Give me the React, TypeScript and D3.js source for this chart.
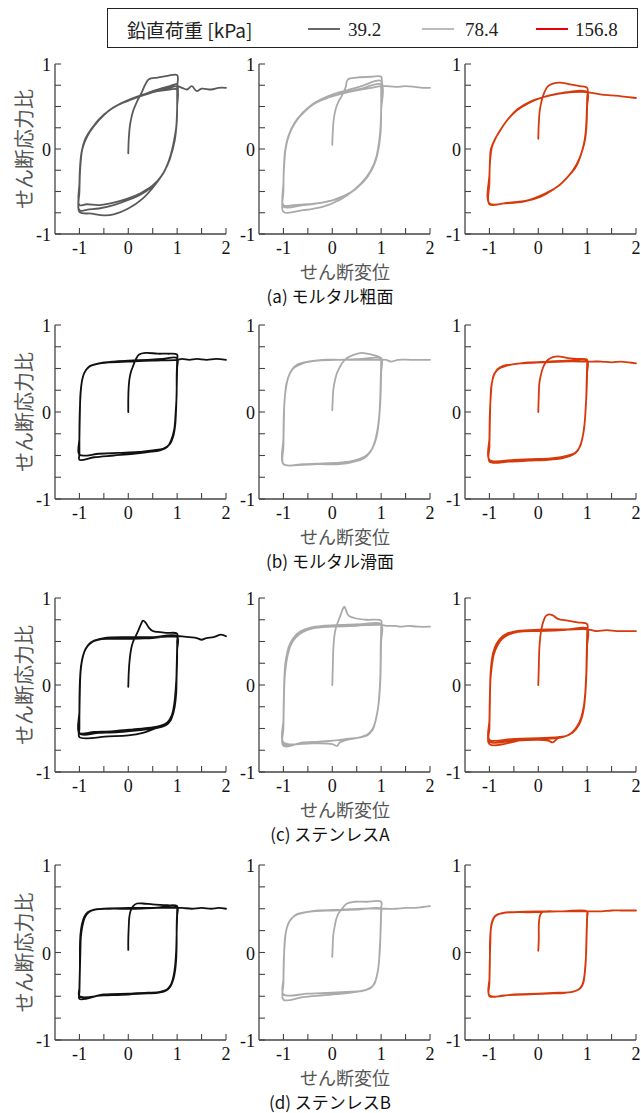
import React from "react";
import * as d3 from "d3";

// ---------- data ----------
const LEGEND_TITLE = "鉛直荷重 [kPa]";
const LOADS = ["39.2", "78.4", "156.8"];
const CAPTIONS = ["(a) モルタル粗面", "(b) モルタル滑面", "(c) ステンレスA", "(d) ステンレスB"];
const Y_TITLE = "せん断応力比";
const X_TITLE = "せん断変位";
const X_TICKS = [-1, -0.5, 0, 0.5, 1, 1.5, 2];
const X_LABELS = [-1, 0, 1, 2];
const Y_TICKS = [-1, -0.75, -0.5, -0.25, 0, 0.25, 0.5, 0.75, 1];
const Y_LABELS = [-1, 0, 1];

type P = [number, number];

// (a) mortar rough
const a1: P[] = [
  [0,-0.05],[0.01,0.12],[0.04,0.3],[0.1,0.45],[0.18,0.56],[0.27,0.66],[0.34,0.75],[0.42,0.82],[0.6,0.84],[0.8,0.86],[1,0.87],
  [1,0.72],[1,0.5],[0.99,0.3],[0.95,0.1],[0.87,-0.08],[0.75,-0.25],[0.55,-0.42],[0.3,-0.58],[0,-0.7],[-0.3,-0.77],[-0.5,-0.78],[-0.75,-0.76],[-1,-0.74],
  [-1,-0.5],[-0.98,-0.2],[-0.94,0],[-0.85,0.14],[-0.72,0.26],[-0.56,0.37],[-0.35,0.47],[-0.14,0.54],[0.1,0.6],[0.3,0.64],[0.6,0.7],[0.85,0.74],[1,0.76],
  [1,0.55],[0.99,0.3],[0.93,0.08],[0.85,-0.12],[0.72,-0.28],[0.54,-0.42],[0.3,-0.52],[0,-0.6],[-0.3,-0.66],[-0.6,-0.7],[-0.8,-0.71],[-1,-0.72],
  [-1,-0.45],[-0.99,-0.25],[-0.96,-0.05],[-0.88,0.12],[-0.75,0.24],[-0.6,0.35],[-0.4,0.45],[-0.2,0.52],[0.05,0.58],[0.3,0.63],[0.6,0.68],[0.85,0.7],[1,0.7],
  [1,0.5],[0.98,0.25],[0.92,0.05],[0.83,-0.14],[0.7,-0.3],[0.5,-0.43],[0.25,-0.52],[0,-0.58],[-0.3,-0.63],[-0.6,-0.66],[-0.85,-0.65],[-1,-0.66],
  [-1,-0.4],[-0.98,-0.15],[-0.93,0.02],[-0.84,0.15],[-0.7,0.27],[-0.5,0.4],[-0.3,0.49],[-0.05,0.56],[0.2,0.61],[0.5,0.67],[0.8,0.71],[1,0.74],
  [1.1,0.72],[1.2,0.7],[1.3,0.74],[1.4,0.68],[1.5,0.71],[1.7,0.7],[1.85,0.72],[2,0.72],
];
const a2: P[] = [
  [0,0.05],[0.01,0.2],[0.03,0.35],[0.07,0.47],[0.13,0.56],[0.2,0.63],[0.27,0.72],[0.32,0.82],[0.5,0.84],[0.8,0.85],[1,0.85],
  [1,0.72],[1,0.45],[0.99,0.2],[0.95,0.02],[0.85,-0.18],[0.7,-0.33],[0.45,-0.48],[0.15,-0.6],[-0.2,-0.68],[-0.6,-0.72],[-1,-0.74],
  [-1,-0.5],[-0.99,-0.2],[-0.96,0],[-0.9,0.15],[-0.78,0.3],[-0.6,0.43],[-0.4,0.53],[-0.25,0.58],[0,0.64],[0.3,0.69],[0.6,0.74],[1,0.8],
  [1,0.5],[0.99,0.25],[0.96,0.05],[0.88,-0.15],[0.73,-0.32],[0.5,-0.46],[0.2,-0.56],[-0.1,-0.62],[-0.5,-0.65],[-0.8,-0.66],[-1,-0.66],
  [-1,-0.4],[-0.98,-0.15],[-0.95,0.02],[-0.88,0.17],[-0.75,0.32],[-0.55,0.45],[-0.3,0.56],[0,0.62],[0.3,0.67],[0.6,0.71],[1,0.76],
  [1,0.45],[0.98,0.2],[0.94,0.02],[0.86,-0.18],[0.7,-0.34],[0.48,-0.47],[0.2,-0.57],[-0.2,-0.63],[-0.6,-0.66],[-1,-0.68],
  [-1,-0.45],[-0.99,-0.2],[-0.96,0],[-0.89,0.16],[-0.76,0.31],[-0.58,0.44],[-0.35,0.54],[-0.1,0.6],[0.2,0.65],[0.5,0.69],[0.8,0.72],[1,0.74],
  [1.1,0.74],[1.3,0.73],[1.5,0.74],[1.7,0.73],[1.85,0.72],[2,0.72],
];
const a3: P[] = [
  [0,0.12],[0.01,0.3],[0.03,0.45],[0.07,0.57],[0.12,0.66],[0.2,0.74],[0.3,0.77],[0.45,0.78],[0.65,0.76],[0.85,0.74],[1,0.72],
  [1,0.6],[0.99,0.4],[0.97,0.2],[0.93,0.05],[0.85,-0.1],[0.7,-0.26],[0.5,-0.39],[0.3,-0.48],[0.05,-0.56],[-0.3,-0.62],[-0.7,-0.64],[-1,-0.65],
  [-1,-0.4],[-0.99,-0.15],[-0.97,0],[-0.9,0.1],[-0.8,0.2],[-0.65,0.33],[-0.45,0.45],[-0.2,0.54],[0.05,0.6],[0.3,0.64],[0.6,0.67],[1,0.67],
  [1,0.5],[0.99,0.3],[0.96,0.12],[0.9,-0.02],[0.78,-0.2],[0.6,-0.33],[0.4,-0.44],[0.15,-0.52],[-0.2,-0.6],[-0.6,-0.63],[-1,-0.64],
  [-1,-0.3],[-0.98,-0.1],[-0.95,0.02],[-0.88,0.12],[-0.78,0.22],[-0.62,0.35],[-0.42,0.47],[-0.15,0.56],[0.1,0.61],[0.4,0.65],[0.7,0.67],[1,0.67],
  [1.1,0.66],[1.3,0.64],[1.5,0.63],[1.7,0.62],[1.85,0.61],[2,0.6],
];

// (b) mortar smooth
const b1: P[] = [
  [0,0],[0,0.15],[0.01,0.3],[0.03,0.4],[0.06,0.47],[0.1,0.53],[0.15,0.6],[0.22,0.66],[0.35,0.68],[0.6,0.67],[0.8,0.67],[1,0.66],
  [1,0.6],[0.99,0.4],[0.99,0.2],[0.97,0],[0.94,-0.2],[0.88,-0.32],[0.8,-0.4],[0.65,-0.44],[0.4,-0.46],[0.1,-0.48],[-0.3,-0.5],[-0.7,-0.52],[-1,-0.55],
  [-1,-0.48],[-1,-0.2],[-0.99,0.05],[-0.97,0.25],[-0.94,0.38],[-0.88,0.47],[-0.78,0.53],[-0.6,0.56],[-0.3,0.58],[0,0.59],[0.4,0.6],[0.7,0.61],[1,0.62],
  [1,0.5],[0.99,0.25],[0.98,0.05],[0.96,-0.15],[0.92,-0.28],[0.85,-0.37],[0.72,-0.42],[0.5,-0.44],[0.2,-0.46],[-0.2,-0.47],[-0.6,-0.48],[-1,-0.49],
  [-1,-0.3],[-0.99,0],[-0.98,0.2],[-0.95,0.35],[-0.9,0.45],[-0.8,0.52],[-0.65,0.55],[-0.4,0.57],[0,0.58],[0.5,0.59],[1,0.6],
  [1.1,0.61],[1.25,0.6],[1.4,0.61],[1.6,0.6],[1.8,0.61],[2,0.6],
];
const b2: P[] = [
  [0,0.02],[0.01,0.15],[0.02,0.25],[0.05,0.35],[0.09,0.44],[0.14,0.5],[0.2,0.56],[0.3,0.62],[0.45,0.66],[0.6,0.68],[0.8,0.66],[1,0.62],
  [1,0.58],[0.99,0.35],[0.98,0.15],[0.96,-0.05],[0.92,-0.22],[0.86,-0.36],[0.78,-0.46],[0.65,-0.53],[0.45,-0.57],[0.15,-0.6],[-0.3,-0.6],[-0.7,-0.61],[-1,-0.6],
  [-1,-0.4],[-0.99,-0.1],[-0.98,0.1],[-0.95,0.27],[-0.9,0.4],[-0.82,0.49],[-0.7,0.55],[-0.5,0.58],[-0.2,0.6],[0.2,0.6],[0.6,0.61],[1,0.61],
  [1,0.45],[0.99,0.2],[0.97,0],[0.94,-0.17],[0.9,-0.3],[0.82,-0.42],[0.7,-0.5],[0.5,-0.55],[0.2,-0.58],[-0.2,-0.59],[-0.6,-0.6],[-1,-0.6],
  [-1,-0.3],[-0.99,0],[-0.97,0.18],[-0.94,0.32],[-0.88,0.43],[-0.78,0.51],[-0.6,0.56],[-0.3,0.59],[0.1,0.6],[0.5,0.6],[1,0.6],
  [1.1,0.6],[1.2,0.58],[1.35,0.6],[1.6,0.6],[1.8,0.6],[2,0.6],
];
const b3: P[] = [
  [0,0],[0.01,0.2],[0.02,0.32],[0.05,0.42],[0.09,0.5],[0.14,0.56],[0.2,0.6],[0.3,0.63],[0.4,0.64],[0.6,0.62],[0.8,0.61],[1,0.6],
  [1,0.56],[0.99,0.35],[0.98,0.15],[0.96,-0.05],[0.93,-0.22],[0.88,-0.35],[0.8,-0.45],[0.68,-0.5],[0.5,-0.53],[0.2,-0.55],[-0.2,-0.56],[-0.6,-0.57],[-1,-0.57],
  [-1,-0.4],[-0.99,-0.1],[-0.98,0.12],[-0.96,0.3],[-0.91,0.42],[-0.84,0.49],[-0.72,0.53],[-0.5,0.55],[-0.2,0.57],[0.2,0.58],[0.6,0.59],[1,0.59],
  [1,0.45],[0.99,0.25],[0.97,0.05],[0.95,-0.12],[0.91,-0.28],[0.85,-0.4],[0.75,-0.47],[0.6,-0.5],[0.3,-0.53],[0,-0.54],[-0.5,-0.55],[-1,-0.55],
  [-1,-0.3],[-0.99,0],[-0.97,0.2],[-0.95,0.33],[-0.9,0.44],[-0.8,0.5],[-0.6,0.54],[-0.3,0.56],[0.1,0.57],[0.5,0.58],[1,0.58],
  [1.1,0.58],[1.3,0.58],[1.5,0.57],[1.7,0.58],[1.85,0.57],[2,0.56],
];

// (c) stainless A
const c1: P[] = [
  [0,-0.02],[0.01,0.15],[0.03,0.3],[0.06,0.42],[0.1,0.5],[0.15,0.56],[0.2,0.62],[0.26,0.7],[0.3,0.74],[0.35,0.72],[0.42,0.66],[0.5,0.62],[0.6,0.61],[0.8,0.6],[1,0.59],
  [1,0.5],[1,0.3],[0.99,0.1],[0.98,-0.1],[0.95,-0.25],[0.9,-0.36],[0.82,-0.44],[0.7,-0.48],[0.5,-0.5],[0.2,-0.52],[-0.2,-0.54],[-0.6,-0.55],[-1,-0.56],
  [-1,-0.3],[-0.99,0],[-0.98,0.15],[-0.95,0.28],[-0.9,0.38],[-0.83,0.45],[-0.72,0.5],[-0.58,0.53],[-0.4,0.54],[0,0.54],[0.5,0.55],[1,0.56],
  [1,0.45],[0.99,0.2],[0.98,0],[0.96,-0.18],[0.92,-0.32],[0.85,-0.42],[0.72,-0.47],[0.55,-0.5],[0.3,-0.55],[0,-0.58],[-0.4,-0.59],[-1,-0.6],
  [-1,-0.5],[-1,-0.2],[-0.99,0.05],[-0.97,0.2],[-0.93,0.33],[-0.87,0.42],[-0.77,0.49],[-0.62,0.52],[-0.4,0.53],[0,0.53],[0.5,0.54],[1,0.55],
  [1,0.4],[0.99,0.15],[0.97,-0.05],[0.94,-0.22],[0.89,-0.35],[0.8,-0.43],[0.65,-0.47],[0.45,-0.49],[0.1,-0.51],[-0.3,-0.53],[-0.7,-0.54],[-1,-0.55],
  [-1,-0.35],[-0.99,-0.05],[-0.98,0.12],[-0.95,0.27],[-0.9,0.38],[-0.82,0.46],[-0.7,0.51],[-0.5,0.54],[0,0.55],[0.5,0.55],[1,0.56],
  [1.1,0.56],[1.25,0.55],[1.4,0.54],[1.5,0.52],[1.6,0.54],[1.75,0.55],[1.9,0.58],[2,0.56],
];
const c2: P[] = [
  [0,0],[0.01,0.2],[0.02,0.4],[0.04,0.55],[0.07,0.65],[0.12,0.73],[0.18,0.82],[0.22,0.88],[0.25,0.9],[0.28,0.86],[0.33,0.8],[0.45,0.77],[0.7,0.75],[1,0.74],
  [1,0.65],[0.99,0.4],[0.99,0.15],[0.97,-0.08],[0.94,-0.25],[0.89,-0.4],[0.82,-0.52],[0.7,-0.58],[0.5,-0.61],[0.3,-0.63],[0.15,-0.66],[0.1,-0.7],[0,-0.68],[-0.4,-0.67],[-1,-0.66],
  [-1,-0.4],[-0.99,-0.1],[-0.98,0.1],[-0.96,0.25],[-0.92,0.38],[-0.86,0.48],[-0.77,0.56],[-0.64,0.62],[-0.45,0.66],[-0.2,0.68],[0.2,0.69],[0.6,0.7],[1,0.7],
  [1,0.55],[0.99,0.3],[0.98,0.05],[0.96,-0.15],[0.92,-0.32],[0.86,-0.46],[0.76,-0.56],[0.6,-0.6],[0.3,-0.62],[0,-0.64],[-0.5,-0.66],[-1,-0.68],
  [-1,-0.5],[-0.99,-0.2],[-0.98,0.05],[-0.95,0.22],[-0.91,0.35],[-0.84,0.47],[-0.74,0.55],[-0.6,0.61],[-0.4,0.65],[0,0.67],[0.5,0.68],[1,0.69],
  [1,0.5],[0.99,0.2],[0.97,-0.05],[0.94,-0.25],[0.9,-0.38],[0.83,-0.5],[0.72,-0.57],[0.5,-0.61],[0.2,-0.63],[-0.2,-0.65],[-0.6,-0.66],[-1,-0.7],
  [-1,-0.45],[-0.99,-0.15],[-0.97,0.12],[-0.94,0.3],[-0.88,0.43],[-0.8,0.52],[-0.68,0.59],[-0.5,0.64],[-0.2,0.67],[0.3,0.68],[1,0.69],
  [1.1,0.68],[1.3,0.68],[1.4,0.67],[1.55,0.68],[1.75,0.67],[2,0.67],
];
const c3: P[] = [
  [0,0],[0.01,0.2],[0.02,0.4],[0.04,0.55],[0.07,0.66],[0.11,0.74],[0.15,0.79],[0.2,0.81],[0.3,0.8],[0.4,0.76],[0.6,0.74],[0.8,0.72],[1,0.7],
  [1,0.6],[0.99,0.35],[0.98,0.1],[0.96,-0.1],[0.93,-0.25],[0.88,-0.37],[0.8,-0.47],[0.68,-0.55],[0.5,-0.6],[0.4,-0.61],[0.3,-0.66],[0.2,-0.64],[0,-0.63],[-0.5,-0.64],[-1,-0.65],
  [-1,-0.4],[-0.99,-0.1],[-0.98,0.1],[-0.96,0.25],[-0.92,0.38],[-0.86,0.47],[-0.77,0.54],[-0.64,0.59],[-0.45,0.62],[-0.2,0.63],[0.2,0.64],[0.6,0.64],[1,0.65],
  [1,0.5],[0.99,0.25],[0.97,0],[0.95,-0.17],[0.91,-0.32],[0.85,-0.43],[0.75,-0.52],[0.6,-0.58],[0.4,-0.6],[0,-0.61],[-0.5,-0.62],[-1,-0.63],
  [-1,-0.5],[-0.99,-0.2],[-0.98,0.05],[-0.95,0.22],[-0.91,0.35],[-0.84,0.45],[-0.74,0.53],[-0.6,0.58],[-0.4,0.61],[0,0.62],[0.5,0.63],[1,0.64],
  [1,0.45],[0.99,0.2],[0.97,-0.05],[0.94,-0.24],[0.9,-0.36],[0.83,-0.46],[0.7,-0.55],[0.5,-0.6],[0.2,-0.62],[-0.3,-0.63],[-1,-0.68],
  [-1,-0.45],[-0.99,-0.1],[-0.97,0.15],[-0.94,0.3],[-0.88,0.42],[-0.8,0.5],[-0.68,0.56],[-0.5,0.6],[-0.2,0.62],[0.3,0.63],[1,0.64],
  [1.1,0.63],[1.2,0.62],[1.4,0.63],[1.6,0.62],[1.8,0.62],[2,0.62],
];

// (d) stainless B
const d1: P[] = [
  [0,0.03],[0,0.15],[0.01,0.3],[0.02,0.4],[0.05,0.48],[0.1,0.53],[0.18,0.56],[0.3,0.56],[0.5,0.55],[0.8,0.54],[1,0.53],
  [1,0.48],[0.99,0.3],[0.99,0.1],[0.98,-0.08],[0.96,-0.2],[0.92,-0.31],[0.86,-0.39],[0.76,-0.44],[0.6,-0.46],[0.3,-0.47],[0,-0.48],[-0.5,-0.49],[-1,-0.5],
  [-1,-0.4],[-0.99,-0.15],[-0.99,0.05],[-0.98,0.2],[-0.95,0.32],[-0.9,0.41],[-0.83,0.46],[-0.7,0.49],[-0.5,0.5],[0,0.51],[0.5,0.51],[1,0.52],
  [1,0.42],[0.99,0.22],[0.98,0.02],[0.96,-0.14],[0.93,-0.26],[0.88,-0.36],[0.8,-0.42],[0.65,-0.45],[0.4,-0.46],[0,-0.47],[-0.5,-0.48],[-1,-0.53],
  [-1,-0.45],[-0.99,-0.2],[-0.98,0.02],[-0.97,0.18],[-0.94,0.3],[-0.89,0.4],[-0.81,0.46],[-0.68,0.49],[-0.4,0.5],[0.1,0.5],[0.6,0.51],[1,0.51],
  [1.1,0.51],[1.3,0.5],[1.5,0.51],[1.7,0.5],[1.85,0.51],[2,0.5],
];
const d2: P[] = [
  [0,-0.05],[0.01,0.1],[0.02,0.2],[0.05,0.3],[0.08,0.38],[0.13,0.45],[0.2,0.5],[0.3,0.56],[0.45,0.58],[0.7,0.58],[1,0.58],
  [1,0.5],[0.99,0.3],[0.98,0.1],[0.96,-0.08],[0.93,-0.22],[0.88,-0.33],[0.8,-0.4],[0.68,-0.43],[0.5,-0.45],[0.2,-0.47],[-0.2,-0.49],[-0.6,-0.51],[-1,-0.54],
  [-1,-0.35],[-0.99,-0.1],[-0.98,0.08],[-0.96,0.2],[-0.92,0.3],[-0.86,0.37],[-0.77,0.42],[-0.62,0.45],[-0.4,0.47],[0,0.48],[0.5,0.49],[1,0.5],
  [1,0.45],[0.99,0.25],[0.97,0.03],[0.95,-0.14],[0.91,-0.27],[0.86,-0.36],[0.76,-0.41],[0.6,-0.44],[0.3,-0.45],[0,-0.46],[-0.5,-0.47],[-1,-0.48],
  [-1,-0.3],[-0.99,-0.05],[-0.97,0.12],[-0.95,0.23],[-0.9,0.33],[-0.83,0.39],[-0.72,0.44],[-0.55,0.46],[-0.3,0.48],[0.2,0.49],[0.6,0.5],[1,0.5],
  [1.1,0.5],[1.3,0.5],[1.5,0.51],[1.7,0.51],[1.85,0.52],[2,0.53],
];
const d3p: P[] = [
  [0,0.02],[0.01,0.15],[0.01,0.3],[0.02,0.38],[0.04,0.43],[0.08,0.46],[0.15,0.47],[0.4,0.47],[0.7,0.47],[1,0.47],
  [1,0.44],[0.99,0.25],[0.98,0.05],[0.97,-0.12],[0.95,-0.25],[0.92,-0.35],[0.86,-0.41],[0.75,-0.44],[0.55,-0.46],[0.2,-0.47],[-0.3,-0.48],[-0.7,-0.49],[-1,-0.5],
  [-1,-0.35],[-0.99,-0.1],[-0.99,0.1],[-0.98,0.22],[-0.96,0.32],[-0.92,0.39],[-0.85,0.43],[-0.72,0.45],[-0.5,0.46],[0,0.47],[0.5,0.47],[1,0.47],
  [1,0.4],[0.99,0.2],[0.98,0],[0.96,-0.17],[0.94,-0.28],[0.9,-0.37],[0.83,-0.42],[0.7,-0.45],[0.4,-0.46],[0,-0.47],[-0.5,-0.48],[-1,-0.49],
  [-1,-0.3],[-0.99,-0.05],[-0.98,0.15],[-0.97,0.27],[-0.94,0.35],[-0.89,0.41],[-0.8,0.44],[-0.6,0.46],[-0.2,0.46],[0.4,0.47],[1,0.47],
  [1.1,0.47],[1.3,0.47],[1.5,0.48],[1.7,0.48],[1.85,0.48],[2,0.48],
];

const ROWS: P[][][] = [
  [a1, a2, a3],
  [b1, b2, b3],
  [c1, c2, c3],
  [d1, d2, d3p],
];

// ---------- layout / style ----------
const W = 641;
const H = 1113;
const PANEL_LEFT = [55, 259, 465];
const PANEL_W = 171;
const ROW_TOP = [64, 325, 598, 865];
const ROW_H = [170, 174, 174, 175];
const ROW_COLORS = [
  ["#5a5a5a", "#aaaaaa", "#d63a0c"],
  ["#111111", "#aaaaaa", "#d63a0c"],
  ["#111111", "#aaaaaa", "#d63a0c"],
  ["#111111", "#aaaaaa", "#d63a0c"],
];
const LEGEND_COLORS = ["#666666", "#bbbbbb", "#e8000a"];
const SERIF = "Liberation Serif, Times New Roman, Times, serif";
const JP = "Noto Sans CJK JP, sans-serif";

function Panel({ left, top, h, data, color, yTitle }: { left: number; top: number; h: number; data: P[]; color: string; yTitle: boolean }) {
  const x = d3.scaleLinear().domain([-1.5, 2]).range([left, left + PANEL_W]);
  const y = d3.scaleLinear().domain([-1, 1]).range([top + h, top]);
  const line = d3
    .line<P>()
    .x((d) => x(d[0]))
    .y((d) => y(d[1]))
    .curve(d3.curveCatmullRom.alpha(0.5));
  const bottom = y(-1);
  const axisColor = "#444";
  return (
    <g>
      <path d={line(data) || ""} fill="none" stroke={color} strokeWidth={1.8} strokeLinejoin="round" strokeLinecap="round" />
      <line x1={x(-1.5)} x2={x(-1.5)} y1={y(1)} y2={bottom} stroke={axisColor} strokeWidth={1.3} />
      <line x1={x(-1.5)} x2={x(2)} y1={bottom} y2={bottom} stroke={axisColor} strokeWidth={1.3} />
      {Y_TICKS.map((t) => (
        <line key={"yt" + t} x1={x(-1.5)} x2={x(-1.5) + 6} y1={y(t)} y2={y(t)} stroke={axisColor} strokeWidth={1.1} />
      ))}
      {X_TICKS.map((t) => (
        <line key={"xt" + t} x1={x(t)} x2={x(t)} y1={bottom} y2={bottom - 6} stroke={axisColor} strokeWidth={1.1} />
      ))}
      {Y_LABELS.map((t) => (
        <text key={"yl" + t} x={x(-1.5) - 4} y={y(t) + 1} textAnchor="end" dominantBaseline="central" fontFamily={SERIF} fontSize={18} fill="#111">
          {String(t)}
        </text>
      ))}
      {X_LABELS.map((t) => (
        <text key={"xl" + t} x={x(t)} y={bottom + 14} textAnchor="middle" dominantBaseline="central" fontFamily={SERIF} fontSize={18} fill="#111">
          {String(t)}
        </text>
      ))}
      {yTitle && (
        <text
          transform={`translate(${left - 32},${y(0)}) rotate(-90)`}
          textAnchor="middle"
          dominantBaseline="central"
          fontFamily={JP}
          fontSize={20}
          fill="#555"
        >
          {Y_TITLE}
        </text>
      )}
    </g>
  );
}

export default function App() {
  const legendX = [308, 422, 536];
  const legendTextX = [348, 465, 575];
  return (
    <svg width={W} height={H} style={{ position: "absolute", left: 0, top: 0, background: "#fff" }}>
      <rect x={0} y={0} width={W} height={H} fill="#fff" />
      <rect x={107.5} y={8.5} width={530} height={39} fill="#fff" stroke="#222" strokeWidth={1} />
      <text x={127} y={29} dominantBaseline="central" fontFamily={JP} fontSize={19} fill="#222">
        {LEGEND_TITLE}
      </text>
      {LOADS.map((l, i) => (
        <g key={l}>
          <line x1={legendX[i]} x2={legendX[i] + 32} y1={29} y2={29} stroke={LEGEND_COLORS[i]} strokeWidth={2} />
          <text x={legendTextX[i]} y={29} dominantBaseline="central" fontFamily={SERIF} fontSize={19} fill="#222">
            {l}
          </text>
        </g>
      ))}
      {ROWS.map((row, r) => {
        const top = ROW_TOP[r];
        const h = ROW_H[r];
        const bottom = top + h;
        return (
          <g key={r}>
            {row.map((data, c) => (
              <Panel key={c} left={PANEL_LEFT[c]} top={top} h={h} data={data} color={ROW_COLORS[r][c]} yTitle={c === 0} />
            ))}
            <text x={345} y={bottom + 37} textAnchor="middle" dominantBaseline="central" fontFamily={JP} fontSize={18} fill="#555">
              {X_TITLE}
            </text>
            <text x={330} y={bottom + 61} textAnchor="middle" dominantBaseline="central" fontFamily={JP} fontSize={17} fill="#111">
              {CAPTIONS[r]}
            </text>
          </g>
        );
      })}
    </svg>
  );
}
